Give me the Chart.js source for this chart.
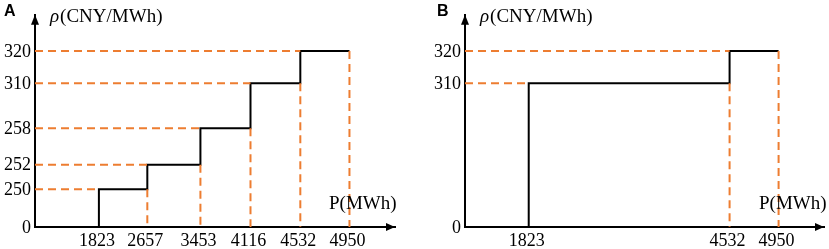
<!DOCTYPE html>
<html><head><meta charset="utf-8">
<script src="https://cdn.jsdelivr.net/npm/chart.js@4/dist/chart.umd.min.js"></script>
<style>
html,body{margin:0;padding:0;background:#fff;}
#wrap{position:relative;width:829px;height:249px;overflow:hidden;}
.panel{position:absolute;top:0;height:249px;}
</style></head><body>
<div id="wrap">
  <div class="panel" style="left:0;width:414px"><canvas id="cA" width="414" height="249"></canvas></div>
  <div class="panel" style="left:414px;width:415px"><canvas id="cB" width="415" height="249"></canvas></div>
</div>
<script>
// ---- data ----
const breaksA = [1823, 2657, 3453, 4116, 4532, 4950];   // MWh step boundaries, panel A
const pricesA = [250, 252, 258, 310, 320];              // CNY/MWh step prices, panel A
const breaksB = [1823, 4532, 4950];                     // panel B
const pricesB = [310, 320];
const xTicksA = [1823, 2657, 3453, 4116, 4532, 4950];
const yTicksA = [0, 250, 252, 258, 310, 320];
const xTicksB = [1823, 4532, 4950];
const yTicksB = [0, 310, 320];

// Schematic (non-proportional) axes: value -> fraction of axis length
const knots = {
  x: { v: [0, 1823, 2657, 3453, 4116, 4532, 4950, 5600],
       f: [0, 0.1775, 0.312, 0.4595, 0.5986, 0.737, 0.8735, 1] },
  y: { v: [0, 250, 252, 258, 310, 320, 340],
       f: [0, 0.178, 0.2935, 0.465, 0.677, 0.8295, 1] }
};

function interp(val, xs, ys) {
  if (val <= xs[0]) return ys[0];
  for (let i = 1; i < xs.length; i++) {
    if (val <= xs[i]) {
      const t = (val - xs[i-1]) / (xs[i] - xs[i-1]);
      return ys[i-1] + t * (ys[i] - ys[i-1]);
    }
  }
  return ys[ys.length-1];
}

class PiecewiseScale extends Chart.LinearScale {
  getPixelForValue(value) {
    if (value === null || value === undefined || isNaN(value)) return NaN;
    const k = knots[this.axis];
    return this.getPixelForDecimal(interp(value, k.v, k.f));
  }
  getValueForPixel(pixel) {
    const k = knots[this.axis];
    return interp(this.getDecimalForPixel(pixel), k.f, k.v);
  }
}
PiecewiseScale.id = 'piecewise';
PiecewiseScale.defaults = Chart.LinearScale.defaults;
Chart.register(PiecewiseScale);

const ORANGE = '#ED7D31';
const SERIF = "'Liberation Serif', 'Times New Roman', serif";

function buildDatasets(breaks, prices) {
  const ds = [];
  prices.forEach((p, i) => {
    ds.push({ data: [{x: 0, y: p}, {x: breaks[i], y: p}],
      borderColor: ORANGE, borderWidth: 2, borderDash: [8, 5], pointRadius: 0, clip: false });
    ds.push({ data: [{x: breaks[i+1], y: p}, {x: breaks[i+1], y: 0}],
      borderColor: ORANGE, borderWidth: 2, borderDash: [8, 5], pointRadius: 0, clip: false });
  });
  const step = [{x: breaks[0], y: 0}];
  prices.forEach((p, i) => step.push({x: breaks[i], y: p}));
  step.push({x: breaks[breaks.length-1], y: prices[prices.length-1]});
  ds.push({ data: step, stepped: 'before', borderColor: '#000', borderWidth: 2,
    pointRadius: 0, clip: false, borderJoinStyle: 'miter' });
  return ds;
}

const decorPlugin = {
  id: 'decor',
  afterDraw(chart, args, opts) {
    const ctx = chart.ctx, a = chart.chartArea;
    ctx.save();
    ctx.fillStyle = '#000';
    // y arrow
    ctx.beginPath();
    ctx.moveTo(a.left, a.top);
    ctx.lineTo(a.left - 4, a.top + 10);
    ctx.lineTo(a.left + 4, a.top + 10);
    ctx.closePath(); ctx.fill();
    // x arrow
    ctx.beginPath();
    ctx.moveTo(a.right, a.bottom);
    ctx.lineTo(a.right - 9, a.bottom - 4);
    ctx.lineTo(a.right - 9, a.bottom + 4);
    ctx.closePath(); ctx.fill();
    // panel letter
    ctx.font = "bold 16px 'Liberation Sans', Arial, sans-serif";
    ctx.textBaseline = 'alphabetic';
    ctx.textAlign = 'left';
    ctx.fillText(opts.letter, a.left - opts.letterDx, 16);
    // y title
    let x = a.left + 15;
    ctx.font = "italic 19px " + SERIF;
    ctx.fillText('ρ', x, 22);
    x += ctx.measureText('ρ').width + 1;
    ctx.font = "19px " + SERIF;
    ctx.fillText('(CNY/MWh)', x, 22);
    // x title
    ctx.font = "19px " + SERIF;
    ctx.fillText('P(MWh)', a.left + 294, 209);
    ctx.restore();
  }
};

function makeChart(id, breaks, prices, xt, yt, yWidth, rightPad, letter, letterDx) {
  return new Chart(document.getElementById(id), {
    type: 'line',
    data: { datasets: buildDatasets(breaks, prices) },
    options: {
      responsive: false, animation: false, events: [],
      layout: { padding: { top: 8, right: rightPad, left: 0, bottom: 0 } },
      plugins: { legend: { display: false }, tooltip: { enabled: false }, decor: { letter, letterDx } },
      scales: {
        x: {
          type: 'piecewise', min: 0, max: 5600,
          grid: { display: false, drawTicks: false },
          border: { display: true, color: '#000', width: 2 },
          afterBuildTicks: s => { s.ticks = xt.map(v => ({ value: v })); },
          afterFit: s => { s.height = 22; },
          ticks: { autoSkip: false, maxRotation: 0, padding: 3, labelOffset: -2,
            color: '#000', font: { family: SERIF, size: 18 }, callback: v => String(v) }
        },
        y: {
          type: 'piecewise', min: 0, max: 340,
          grid: { display: false, drawTicks: false },
          border: { display: true, color: '#000', width: 2 },
          afterBuildTicks: s => { s.ticks = yt.map(v => ({ value: v })); },
          afterFit: s => { s.width = yWidth; },
          ticks: { autoSkip: false, padding: 4, labelOffset: 1,
            color: '#000', font: { family: SERIF, size: 18 }, callback: v => String(v) }
        }
      }
    },
    plugins: [decorPlugin]
  });
}

makeChart('cA', breaksA, pricesA, xTicksA, yTicksA, 35, 19, 'A', 31);
makeChart('cB', breaksB, pricesB, xTicksB, yTicksB, 51, 5, 'B', 28);
</script>
</body></html>
